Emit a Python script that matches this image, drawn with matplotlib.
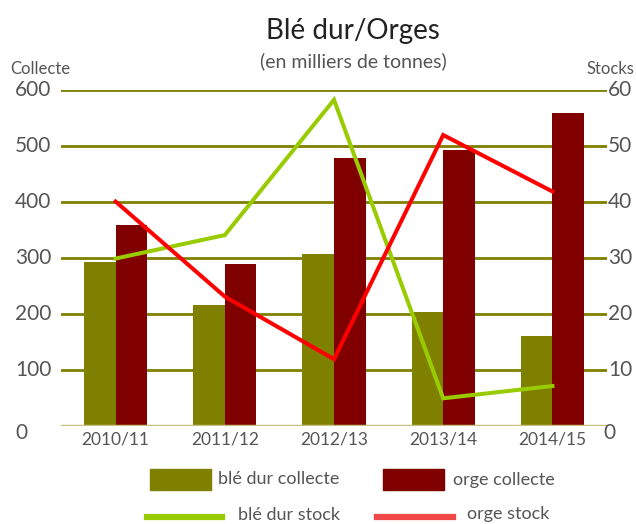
import matplotlib
matplotlib.use("Agg")
import matplotlib.pyplot as plt
import numpy as np
from matplotlib.lines import Line2D
from matplotlib.patches import Rectangle

plt.rcParams['font.family'] = ['Lato', 'DejaVu Sans']

campagnes = ["2010/11", "2011/12", "2012/13", "2013/14", "2014/15"]
ble_dur_collecte = [293, 216, 307, 203, 160]
orge_collecte = [359, 289, 479, 493, 559]
ble_dur_stock = [29.9, 34.1, 58.3, 4.9, 7.1]
orge_stock = [40.1, 23.1, 11.9, 52.0, 41.9]

left_ticks = [0, 100, 200, 300, 400, 500, 600]
right_ticks = [0, 10, 20, 30, 40, 50, 60]

OLIVE = "#808000"
MAROON = "#800000"
LGREEN = "#99cc00"
RED = "#ff0000"
TXT = "#555555"
FW = 'normal'

fig = plt.figure(figsize=(6.36, 5.24), dpi=100)
ax = fig.add_axes([61/636, 1-425.7/524, 546/636, 335.4/524])
ax2 = ax.twinx()

x = np.arange(len(campagnes))
w = 0.29
ax.bar(x - w/2, ble_dur_collecte, width=w, color=OLIVE, zorder=3)
ax.bar(x + w/2, orge_collecte, width=w, color=MAROON, zorder=3)
for t in left_ticks[1:]:
    ax.axhline(t, color=OLIVE, lw=2, zorder=1)
ax.axhline(0, color="#c8c27c", lw=2.5, zorder=4)

ax.set_xlim(-0.5, len(campagnes) - 0.5)
ax.set_ylim(0, 600)
ax.set_yticks(left_ticks)
ax.set_yticklabels([])
ax.set_xticks(x)
ax.set_xticklabels(campagnes, color=TXT, fontsize=12.5, fontweight=FW)
ax.tick_params(axis='x', length=0, pad=4)
ax.tick_params(axis='y', length=0)
for s in ax.spines.values():
    s.set_visible(False)

ax2.plot(x, ble_dur_stock, color=LGREEN, lw=2.9, zorder=5, solid_joinstyle='miter')
ax2.plot(x, orge_stock, color=RED, lw=2.9, zorder=5, solid_joinstyle='miter')
ax2.set_ylim(0, 60)
ax2.set_yticks(right_ticks)
ax2.set_yticklabels([])
ax2.tick_params(axis='y', length=0)
for s in ax2.spines.values():
    s.set_visible(False)

# tick labels (left-aligned like the reference)
for t in left_ticks:
    yy = 1 - (425.7 - t * 335.4 / 600) / 524
    if t == 0:
        yy -= 7/524
    fig.text(15/636, yy, str(t), ha='left', va='center', fontsize=15, color=TXT, fontweight=FW)
for t in right_ticks:
    yy = 1 - (425.7 - t * 335.4 / 60) / 524
    xx = 608/636 if t else 603/636
    if t == 0:
        yy -= 7/524
    fig.text(xx, yy, str(t), ha='left', va='center', fontsize=15, color=TXT, fontweight=FW)

fig.text(353/636, 1 - 31/524, "Blé dur/Orges", ha='center', va='center', fontsize=20, color="#222222")
fig.text(353/636, 1 - 61/524, "(en milliers de tonnes)", ha='center', va='center', fontsize=14, color=TXT, fontweight=FW)
fig.text(10/636, 1 - 69/524, "Collecte", ha='left', va='center', fontsize=12, color=TXT, fontweight=FW)
fig.text(634/636, 1 - 69/524, "Stocks", ha='right', va='center', fontsize=12, color=TXT, fontweight=FW)

# legend
def px(xp, yp):
    return xp/636, 1 - yp/524

fig.add_artist(Rectangle(px(150, 490), 61/636, 21/524, color=OLIVE, transform=fig.transFigure))
fig.text(*px(218, 479), "blé dur collecte", ha='left', va='center', fontsize=13, color=TXT, fontweight=FW)
fig.add_artist(Rectangle(px(383, 490), 61/636, 21/524, color=MAROON, transform=fig.transFigure))
fig.text(*px(453, 480), "orge collecte", ha='left', va='center', fontsize=13, color=TXT, fontweight=FW)
fig.add_artist(Line2D([147/636, 222/636], [1-517/524]*2, color=LGREEN, lw=4.5, transform=fig.transFigure))
fig.text(*px(238, 515), "blé dur stock", ha='left', va='center', fontsize=13, color=TXT, fontweight=FW)
fig.add_artist(Line2D([377/636, 453/636], [1-517/524]*2, color="#f04848", lw=4.5, transform=fig.transFigure))
fig.text(*px(467, 514), "orge stock", ha='left', va='center', fontsize=13, color=TXT, fontweight=FW)

fig.savefig("out.png", dpi=100)
